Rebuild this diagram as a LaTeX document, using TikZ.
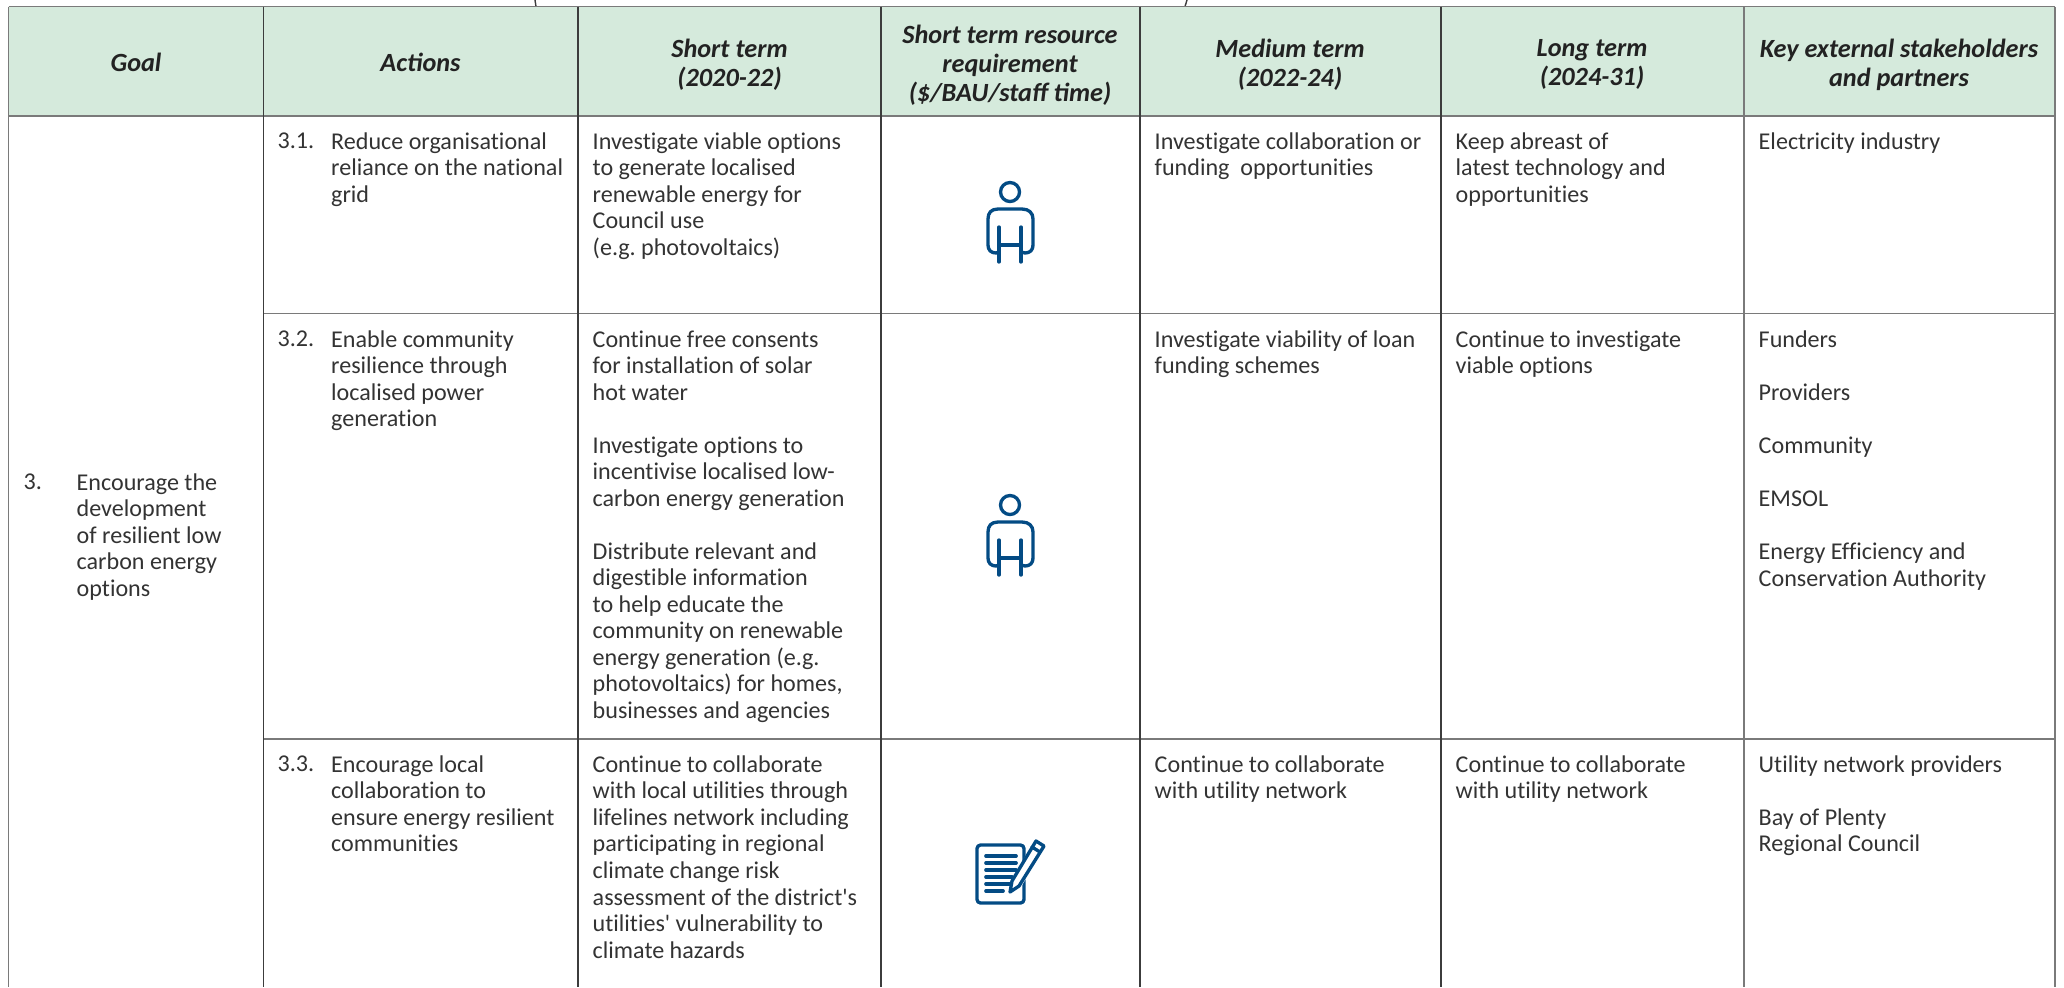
\documentclass[tikz,border=0pt]{standalone}
\usepackage{fontspec}
\setmainfont{Carlito}
\newfontfamily\bodyfont{Carlito}[Ligatures={TeXOff,NoCommon}]
\definecolor{headgreen}{HTML}{D5EADC}
\definecolor{inkgrey}{HTML}{333333}
\definecolor{headink}{HTML}{222222}
\definecolor{rulegrey}{HTML}{7A7A7A}
\definecolor{ruledark}{HTML}{3C3C3C}
\definecolor{iconblue}{HTML}{034B84}
\tikzset{
  cell/.style={anchor=north west,inner sep=0pt,align=left,text=inkgrey,font=\frenchspacing\bodyfont\fontsize{6.85}{7.54}\selectfont},
  head/.style={anchor=center,inner sep=0pt,align=center,text=headink,font=\fontsize{7.47}{8.3}\selectfont\bfseries\itshape},
  softrule/.style={draw=rulegrey,line width=0.55pt},
  hardrule/.style={draw=ruledark,line width=0.4pt},
  iconline/.style={draw=iconblue,line width=0.95pt,line cap=round,line join=round},
  person/.pic={
    \draw [iconline] (0,-1.) circle (9.5);
    \draw [iconline] (-11.,60.) .. controls (-11.,58.) and (-12.,60.) .. (-14.,60.) .. controls (-19.,60.) and (-22.,57.) .. (-22.,52.) -- (-22.,26.) .. controls (-22.,20.) and (-19.,16.) .. (-12.,16.) -- (12.,16.) .. controls (19.,16.) and (23.,20.) .. (23.,26.) -- (23.,52.) .. controls (23.,57.) and (20.,60.) .. (15.,60.) .. controls (12.,60.) and (11.,58.) .. (11.,60.);
    \draw [iconline] (-11.,34.) -- (-11.,69.);
    \draw [iconline] (11.,34.) -- (11.,69.);
    \draw [iconline] (-11.,52.) -- (11.,52.);
  }
}
\begin{document}
\begin{tikzpicture}[x=0.01cm,y=-0.01cm]
\useasboundingbox (0.,0.) rectangle (2064.,987.);
\fill [headgreen] (8.5,6.5) rectangle (2055.,116.);
% stubs above the table
\draw [hardrule] (535.,0.) .. controls (535.,3.) .. (536.,6.5);
\draw [hardrule] (1187.,0.) .. controls (1186.,3.) .. (1185.,6.5);
% rules
\draw [softrule] (8.5,6.5) -- (2055.,6.5);
\draw [softrule] (8.5,116.) -- (2055.,116.);
\draw [softrule] (263.5,313.5) -- (2055.,313.5);
\draw [softrule] (263.5,739.) -- (2055.,739.);
\draw [softrule] (8.5,6.5) -- (8.5,987.);
\draw [softrule] (2055.,6.5) -- (2055.,987.);
\draw [softrule] (1744.,6.5) -- (1744.,987.);
\foreach \colx in {263.5,578.,881.,1140.,1441.}
  \draw [hardrule] (\colx,6.5) -- (\colx,987.);
% header
\node (hgoal) at (136.,62.) [head] {Goal};
\node (hactions) at (420.5,62.) [head] {Actions};
\node (hshort) at (729.5,64.5) [head] {Short term\\(2020-22)};
\node (hres) at (1010.,65.) [head] {Short term resource\\requirement\\(\$/BAU/staff time)};
\node (hmedium) at (1290.,64.5) [head] {Medium term\\(2022-24)};
\node (hlong) at (1592.,64.5) [head] {Long term\\(2024-31)};
\node (hkey) at (1899.,64.5) [head] {Key external stakeholders\\and partners};
% goal
\node (goalnum) at (23.,473.) [cell] {3.};
\node (goaltext) at (76.,473.) [cell] {Encourage the\\development\\of resilient low\\carbon energy\\options};
% row 3.1
\node (anum1) at (277.,132.) [cell] {3.1.};
\node (atext1) at (330.5,132.) [cell] {Reduce organisational\\reliance on the national\\grid};
\node (short1) at (592.,132.) [cell] {Investigate viable options\\to generate localised\\renewable energy for\\Council use\\(e.g. photovoltaics)};
\node (med1) at (1154.,132.) [cell] {Investigate collaboration or\\funding\ \ opportunities};
\node (long1) at (1455.,132.) [cell] {Keep abreast of\\latest technology and\\opportunities};
\node (key1) at (1758.,132.) [cell] {Electricity industry};
% row 3.2
\node (anum2) at (277.,330.) [cell] {3.2.};
\node (atext2) at (330.5,330.) [cell] {Enable community\\resilience through\\localised power\\generation};
\node (short2) at (592.,330.) [cell] {Continue free consents\\for installation of solar\\hot water\\[7.54pt]Investigate options to\\incentivise localised low-\\carbon energy generation\\[7.54pt]Distribute relevant and\\digestible information\\to help educate the\\community on renewable\\energy generation (e.g.\\photovoltaics) for homes,\\businesses and agencies};
\node (med2) at (1154.,330.) [cell] {Investigate viability of loan\\funding schemes};
\node (long2) at (1455.,330.) [cell] {Continue to investigate\\viable options};
\node (key2) at (1758.,330.) [cell] {Funders\\[7.54pt]Providers\\[7.54pt]Community\\[7.54pt]EMSOL\\[7.54pt]Energy Efficiency and\\Conservation Authority};
% row 3.3
\node (anum3) at (277.,755.) [cell] {3.3.};
\node (atext3) at (330.5,755.) [cell] {Encourage local\\collaboration to\\ensure energy resilient\\communities};
\node (short3) at (592.,755.) [cell] {Continue to collaborate\\with local utilities through\\lifelines network including\\participating in regional\\climate change risk\\assessment of the district's\\utilities' vulnerability to\\climate hazards};
\node (med3) at (1154.,755.) [cell] {Continue to collaborate\\with utility network};
\node (long3) at (1455.,755.) [cell] {Continue to collaborate\\with utility network};
\node (key3) at (1758.,755.) [cell] {Utility network providers\\[7.54pt]Bay of Plenty\\Regional Council};
% icons
\pic at (1010.,193.) {person};
\pic at (1010.,506.) {person};
\draw [iconline,rounded corners=1pt] (977.,845.) rectangle (1024.,903.);
\foreach \liney in {856.,863.,870.}
  \draw [iconline,line width=1.05pt] (986.,\liney) -- (1016.,\liney);
\draw [iconline,line width=1.05pt] (986.,877.) -- (1012.,877.);
\draw [iconline,line width=1.05pt] (986.,884.) -- (1010.,884.);
\draw [iconline,line width=1.05pt] (986.,891.) -- (1003.,891.);
\draw [draw=white,fill=white,line width=1.2pt] (1010.,892.) -- (1035.,841.) -- (1044.,846.) -- (1019.,886.) -- cycle;
\draw [iconline] (1010.,892.) -- (1012.,881.) -- (1036.,841.) -- (1044.,846.) -- (1019.,886.) -- cycle;
\draw [iconline] (1032.,847.) -- (1040.,852.);
\end{tikzpicture}
\end{document}
